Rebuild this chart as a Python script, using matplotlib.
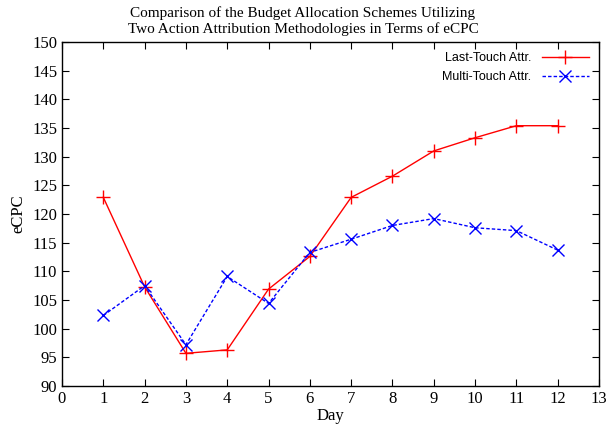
import matplotlib
matplotlib.use("Agg")
import matplotlib.pyplot as plt

days = [1, 2, 3, 4, 5, 6, 7, 8, 9, 10, 11, 12]
last_touch = [122.9, 107.3, 95.7, 96.3, 106.9, 112.6, 122.9, 126.6, 131.0, 133.3, 135.4, 135.4]
multi_touch = [102.3, 107.5, 97.2, 109.1, 104.4, 113.3, 115.6, 118.0, 119.2, 117.6, 117.1, 113.7]
xticks = list(range(0, 14))
yticks = list(range(90, 151, 5))

plt.rcParams['font.family'] = ['Liberation Serif', 'DejaVu Serif']

fig = plt.figure(figsize=(6.06, 4.28), dpi=100)
ax = fig.add_axes([62/606, 1 - 386/428, (599 - 62)/606, (386 - 42)/428])

ax.plot(days, last_touch, color='#ff0000', linewidth=1.0, marker='+',
        markersize=10, markeredgewidth=1.0, label='Last-Touch Attr.')
ax.plot(days, multi_touch, color='#0000ff', linewidth=1.0, linestyle=(0, (2.5, 1.5)),
        marker='x', markersize=9, markeredgewidth=1.0, label='Multi-Touch Attr.')

ax.set_xlim(0, 13)
ax.set_ylim(90, 150)
ax.set_xticks(xticks)
ax.set_yticks(yticks)
ax.tick_params(direction='in', top=True, right=True, length=5, labelsize=12)
for s in ax.spines.values():
    s.set_linewidth(1.0)

ax.set_xlabel('Day', fontsize=12, labelpad=1)
ax.set_ylabel('eCPC', fontsize=12, labelpad=4)
# two-line title, gnuplot style
fig.text(0.5, 0.985, 'Comparison of the Budget Allocation Schemes Utilizing\n'
         'Two Action Attribution Methodologies in Terms of eCPC',
         ha='center', va='top', fontsize=11, linespacing=1.2)

leg = ax.legend(loc='upper right', frameon=False, markerfirst=False,
                prop={'family': 'Liberation Sans', 'size': 9},
                handlelength=3.8, borderaxespad=0.4, labelspacing=0.55)

fig.savefig('out.png', dpi=100)
